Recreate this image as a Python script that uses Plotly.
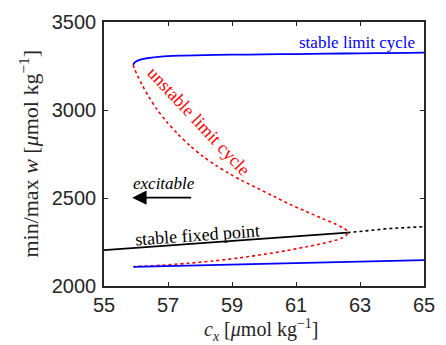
import plotly.graph_objects as go

# Upper branch of the stable limit cycle (max w)
lc_upper_x = [55.91, 55.95, 56.0, 56.09, 56.2, 56.35, 56.49, 56.7, 56.99, 57.5, 58.5, 59.5, 60.5, 61.5, 62.5, 63.5, 64.5, 65.0]
lc_upper_y = [3257, 3268, 3275, 3283, 3289, 3294, 3298, 3302, 3306, 3309, 3313, 3315, 3317, 3319, 3321, 3323, 3325, 3326]

# Lower branch of the stable limit cycle (min w)
lc_lower_x = [55.92, 57.0, 58.5, 60.0, 61.5, 63.0, 64.0, 65.0]
lc_lower_y = [2109, 2113, 2119, 2125, 2131, 2138, 2142, 2147]

# Unstable limit cycle, from the upper fold round the Hopf point and back
ulc_x = [55.91, 55.95, 56.05, 56.2, 56.4, 56.65, 56.95, 57.3, 57.7, 58.1, 58.5, 58.9, 59.3, 59.8,
         60.3, 60.8, 61.3, 61.8, 62.2, 62.45, 62.58, 62.61, 62.57, 62.45, 62.2, 61.8, 61.3,
         60.7, 60.0, 59.2, 58.4, 57.6, 56.8, 56.3, 55.92]
ulc_y = [3257, 3235, 3195, 3140, 3075, 3005, 2935, 2865, 2795, 2735, 2685, 2640, 2600, 2555,
         2510, 2465, 2425, 2385, 2355, 2332, 2317, 2304, 2288, 2274, 2258, 2240, 2222,
         2201, 2180, 2159, 2142, 2129, 2118, 2113, 2110]

# Fixed point: stable up to the Hopf point, unstable beyond it
fp_stable_x = [55.0, 57.0, 59.0, 61.0, 62.61]
fp_stable_y = [2204, 2230, 2256, 2282, 2303]
fp_unstable_x = [62.61, 63.94, 65.0]
fp_unstable_y = [2303, 2327, 2337]

x_ticks = [55, 57, 59, 61, 63, 65]
y_ticks = [2000, 2500, 3000, 3500]

AXIS = "#262626"
SERIF = "Liberation Serif, Times New Roman, serif"
SANS = "Liberation Sans, Arial, sans-serif"

fig = go.Figure()
fig.add_trace(go.Scatter(x=ulc_x, y=ulc_y, mode="lines", line_shape="spline",
                         line=dict(color="#ff0000", width=1.6, dash="dot", smoothing=0.8), hoverinfo="skip"))
fig.add_trace(go.Scatter(x=lc_upper_x, y=lc_upper_y, mode="lines", line_shape="spline",
                         line=dict(color="#0000ff", width=1.8), hoverinfo="skip"))
fig.add_trace(go.Scatter(x=lc_lower_x, y=lc_lower_y, mode="lines",
                         line=dict(color="#0000ff", width=1.8), hoverinfo="skip"))
fig.add_trace(go.Scatter(x=fp_stable_x, y=fp_stable_y, mode="lines",
                         line=dict(color="#000000", width=1.6), hoverinfo="skip"))
fig.add_trace(go.Scatter(x=fp_unstable_x, y=fp_unstable_y, mode="lines",
                         line=dict(color="#000000", width=1.6, dash="dot"), hoverinfo="skip"))

annotations = [
    dict(x=64.79, y=3381, text="stable limit cycle", showarrow=False, xanchor="right", yanchor="middle",
         font=dict(family=SERIF, size=17, color="#0000ff")),
    dict(x=57.95, y=2935, text="unstable limit cycle", showarrow=False, textangle=47,
         font=dict(family=SERIF, size=18, color="#ff0000")),
    dict(x=56.88, y=2585, text="<i>excitable</i>", showarrow=False,
         font=dict(family=SERIF, size=17, color="#000000")),
    dict(x=57.92, y=2292, text="stable fixed point", showarrow=False, textangle=-4.2,
         font=dict(family=SERIF, size=18, color="#000000")),
    # arrow pointing towards the excitable regime
    dict(x=55.88, y=2502, ax=57.77, ay=2502, axref="x", ayref="y", xref="x", yref="y", text="",
         showarrow=True, arrowhead=2, arrowsize=1.8, arrowwidth=1.6, arrowcolor="#000000"),
    # axis titles
    dict(xref="paper", yref="paper", x=0.492, y=-0.166, text="<i>c<sub>x</sub></i> [<i>μ</i>mol kg<sup>−1</sup>]",
         showarrow=False, xanchor="center", yanchor="middle", font=dict(family=SERIF, size=20, color=AXIS)),
    dict(xref="paper", yref="paper", x=-0.2357, y=0.5, text="min/max <i>w</i> [<i>μ</i>mol kg<sup>−1</sup>]",
         showarrow=False, textangle=-90, xanchor="center", yanchor="middle",
         font=dict(family=SERIF, size=22, color=AXIS)),
]

axis_common = dict(showline=True, linecolor=AXIS, linewidth=1.5, mirror="allticks", ticks="inside",
                   ticklen=4, tickwidth=1.2, tickcolor=AXIS, showgrid=False, zeroline=False,
                   tickfont=dict(family=SANS, size=20, color=AXIS))

fig.update_layout(
    width=446, height=345,
    margin=dict(l=104, r=11, t=21, b=59),
    paper_bgcolor="white", plot_bgcolor="white",
    showlegend=False,
    xaxis=dict(range=[55, 65], tickvals=x_ticks, ticklabelstandoff=0, **axis_common),
    yaxis=dict(range=[2000, 3500], tickvals=y_ticks, ticklabelstandoff=2, **axis_common),
    annotations=annotations,
)

fig.write_html("out.html")
